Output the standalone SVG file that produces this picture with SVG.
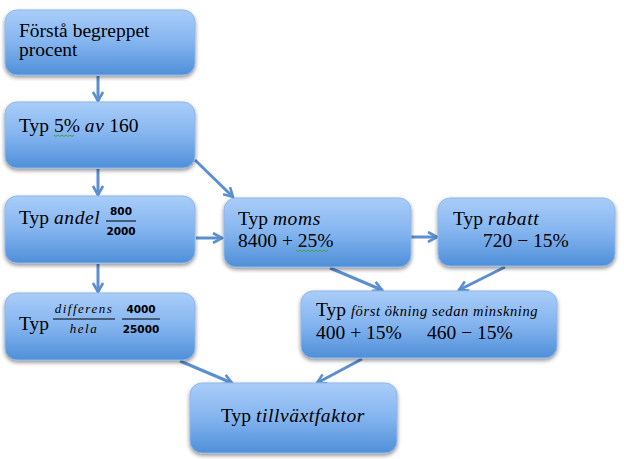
<svg xmlns="http://www.w3.org/2000/svg" width="624" height="459" viewBox="0 0 624 459">
<defs>
<linearGradient id="g" x1="0" y1="0" x2="0" y2="1">
<stop offset="0" stop-color="#a9cdf9"/>
<stop offset="0.5" stop-color="#84b4ef"/>
<stop offset="1" stop-color="#4f8fd9"/>
</linearGradient>
<filter id="sh" x="-10%" y="-10%" width="120%" height="130%">
<feGaussianBlur in="SourceAlpha" stdDeviation="2"/>
<feOffset dy="2" result="b"/>
<feComponentTransfer><feFuncA type="linear" slope="0.45"/></feComponentTransfer>
<feMerge><feMergeNode/><feMergeNode in="SourceGraphic"/></feMerge>
</filter>
<marker id="ah" viewBox="0 0 12 12" refX="10" refY="6" markerWidth="12" markerHeight="12" markerUnits="userSpaceOnUse" orient="auto">
<path d="M1,1 L10,6 L1,11" fill="none" stroke="#5b8fd0" stroke-width="2.6" stroke-linejoin="miter"/>
</marker>
</defs>
<style>
.box{fill:url(#g);stroke:#8fb7ea;stroke-width:1;filter:url(#sh)}
.t{font-family:"Liberation Serif","DejaVu Serif",serif;font-size:19.5px;fill:#000}
.i{font-style:italic;letter-spacing:0.6px}
.s{font-family:"DejaVu Sans","Liberation Sans",sans-serif;font-size:10.5px;font-weight:bold;fill:#000}
.si{font-family:"Liberation Serif",serif;font-style:italic;font-size:13px;fill:#000;letter-spacing:1.5px}
.c{fill:none;stroke:#5b8fd0;stroke-width:3;marker-end:url(#ah)}
.fl{stroke:#000;stroke-width:1}
.sq{fill:none;stroke:#3aa63a;stroke-width:1}
</style>
<g id="connectors">
<line class="c" x1="98" y1="76" x2="98" y2="101"/>
<line class="c" x1="98" y1="169" x2="98" y2="195"/>
<line class="c" x1="98" y1="264" x2="98" y2="292"/>
<line class="c" x1="195" y1="160" x2="233" y2="197"/>
<line class="c" x1="196" y1="238" x2="222" y2="238"/>
<line class="c" x1="411" y1="237" x2="437" y2="237"/>
<line class="c" x1="330" y1="268" x2="382" y2="290"/>
<line class="c" x1="505" y1="267" x2="459" y2="290"/>
<line class="c" x1="180" y1="361" x2="232" y2="383"/>
<line class="c" x1="362" y1="359" x2="317" y2="383"/>
</g>
<g id="n1">
<rect class="box" x="5" y="10" width="190" height="65" rx="12"/>
<text class="t" x="19" y="37">Förstå begreppet</text>
<text class="t" x="19" y="56">procent</text>
</g>
<g id="n2">
<rect class="box" x="5" y="102" width="190" height="66" rx="12"/>
<text class="t" x="19" y="132">Typ 5% <tspan class="i">av</tspan> 160</text>
<path class="sq" d="M54,135 l2,1.5 l2,-1.5 l2,1.5 l2,-1.5 l2,1.5 l2,-1.5 l2,1.5 l2,-1.5 l2,1.5 l2,-1.5"/>
</g>
<g id="n3">
<rect class="box" x="5" y="196" width="190" height="67" rx="12"/>
<text class="t" x="19" y="224">Typ <tspan class="i">andel</tspan></text>
<text class="s" x="121" y="215" text-anchor="middle">800</text>
<line class="fl" x1="106" y1="221" x2="136" y2="221"/>
<text class="s" x="121" y="235" text-anchor="middle">2000</text>
</g>
<g id="n4">
<rect class="box" x="5" y="293" width="190" height="67" rx="12"/>
<text class="t" x="19" y="330" font-size="21">Typ</text>
<text class="si" x="84" y="313" text-anchor="middle">differens</text>
<line class="fl" x1="53" y1="319" x2="115" y2="319"/>
<text class="si" x="84" y="333" text-anchor="middle">hela</text>
<text class="s" x="141" y="313" text-anchor="middle">4000</text>
<line class="fl" x1="122" y1="319" x2="160" y2="319"/>
<text class="s" x="141" y="333" text-anchor="middle">25000</text>
</g>
<g id="n5">
<rect class="box" x="224" y="198" width="187" height="69" rx="12"/>
<text class="t" x="238" y="225">Typ <tspan class="i">moms</tspan></text>
<text class="t" x="238" y="247">8400 + 25%</text>
<path class="sq" d="M296,250 l2,1.5 l2,-1.5 l2,1.5 l2,-1.5 l2,1.5 l2,-1.5 l2,1.5 l2,-1.5 l2,1.5 l2,-1.5 l2,1.5 l2,-1.5 l2,1.5 l2,-1.5 l2,1.5 l2,-1.5"/>
</g>
<g id="n6">
<rect class="box" x="438" y="198" width="177" height="68" rx="12"/>
<text class="t" x="453" y="225">Typ <tspan class="i">rabatt</tspan></text>
<text class="t" x="483" y="247">720 − 15%</text>
</g>
<g id="n7">
<rect class="box" x="301" y="291" width="256" height="67" rx="12"/>
<text class="t" x="316" y="316">Typ <tspan class="i" font-size="14.5" letter-spacing="0">först ökning sedan minskning</tspan></text>
<text class="t" x="316" y="339">400 + 15%</text>
<text class="t" x="427" y="339">460 − 15%</text>
</g>
<g id="n8">
<rect class="box" x="190" y="383" width="207" height="70" rx="12"/>
<text class="t" x="293" y="422" text-anchor="middle" font-size="20">Typ <tspan class="i" letter-spacing="1">tillväxtfaktor</tspan></text>
</g>
</svg>
